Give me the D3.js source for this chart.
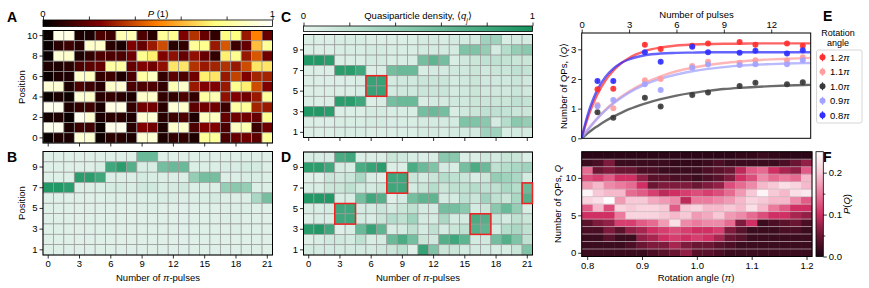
<!DOCTYPE html>
<html><head><meta charset="utf-8">
<script src="https://cdn.jsdelivr.net/npm/d3@7"></script>
<style>body{margin:0;background:#fff}svg{display:block}</style>
</head><body><svg id="c" width="869" height="288"></svg>
<script>
// ---------------- DATA ----------------
const pulses = [0,1,2,3,4,5,6,7,8,9,10,11,12,13,14,15,16,17,18,19,20,21];
const pulseTicks = [0,3,6,9,12,15,18,21];
const positionsA = [10,9,8,7,6,5,4,3,2,1,0];
const positionsBCD = [10,9,8,7,6,5,4,3,2,1];

// Panel A: P(1) per position (rows top->bottom = positionsA)
const probA = [
 [0.02,0.95,0.95,0.05,0.05,0.15,0.12,0.85,0.85,0.15,0.08,0.80,0.78,0.25,0.35,0.20,0.10,0.75,0.75,0.30,0.50,0.20],
 [0.02,0.08,0.12,0.08,0.90,0.90,0.08,0.05,0.25,0.20,0.30,0.40,0.08,0.10,0.80,0.78,0.30,0.42,0.12,0.20,0.62,0.80],
 [0.02,0.92,0.90,0.06,0.10,0.15,0.15,0.15,0.22,0.78,0.72,0.25,0.28,0.20,0.28,0.20,0.10,0.72,0.78,0.30,0.42,0.22],
 [0.06,0.06,0.08,0.15,0.18,0.20,0.82,0.82,0.20,0.25,0.22,0.28,0.70,0.70,0.35,0.30,0.32,0.35,0.30,0.40,0.70,0.70],
 [0.02,0.06,0.06,0.90,0.88,0.10,0.12,0.06,0.15,0.82,0.88,0.10,0.18,0.15,0.22,0.72,0.70,0.30,0.38,0.25,0.32,0.32],
 [0.92,0.92,0.06,0.15,0.12,0.08,0.90,0.92,0.15,0.15,0.15,0.10,0.85,0.90,0.30,0.25,0.25,0.30,0.78,0.72,0.40,0.25],
 [0.02,0.05,0.03,0.92,0.90,0.08,0.10,0.08,0.06,0.90,0.90,0.10,0.10,0.15,0.10,0.82,0.85,0.28,0.25,0.22,0.30,0.80],
 [0.97,0.97,0.06,0.10,0.12,0.05,0.95,0.95,0.10,0.22,0.22,0.08,0.92,0.90,0.18,0.22,0.22,0.12,0.82,0.80,0.32,0.30],
 [0.04,0.06,0.02,0.97,0.92,0.05,0.08,0.08,0.06,0.92,0.92,0.08,0.12,0.15,0.06,0.88,0.88,0.20,0.22,0.22,0.20,0.78],
 [0.97,0.97,0.05,0.12,0.12,0.03,0.96,0.96,0.08,0.25,0.22,0.06,0.90,0.90,0.15,0.25,0.25,0.15,0.88,0.85,0.12,0.22],
 [0.02,0.06,0.05,0.92,0.92,0.03,0.08,0.08,0.06,0.92,0.92,0.06,0.10,0.10,0.06,0.80,0.80,0.15,0.20,0.22,0.18,0.80]
];

// Panel B: quasiparticle density (rows = positionsBCD)
const densB = [
 [0.05,0.05,0.05,0.05,0.05,0.05,0.05,0.05,0.05,0.60,0.60,0.05,0.05,0.05,0.05,0.05,0.05,0.05,0.05,0.05,0.05,0.05],
 [0.05,0.05,0.05,0.05,0.05,0.08,0.80,0.90,0.70,0.08,0.08,0.55,0.60,0.60,0.06,0.06,0.06,0.08,0.08,0.10,0.10,0.06],
 [0.05,0.05,0.05,0.90,0.90,0.80,0.06,0.06,0.06,0.10,0.08,0.06,0.06,0.06,0.40,0.55,0.55,0.06,0.06,0.08,0.08,0.06],
 [0.95,0.95,0.90,0.06,0.06,0.06,0.10,0.10,0.08,0.12,0.12,0.08,0.10,0.12,0.06,0.06,0.06,0.40,0.45,0.40,0.06,0.06],
 [0.05,0.05,0.05,0.05,0.05,0.05,0.06,0.06,0.06,0.06,0.06,0.08,0.08,0.06,0.06,0.08,0.10,0.06,0.06,0.06,0.30,0.55],
 [0.05,0.05,0.05,0.05,0.05,0.05,0.05,0.05,0.05,0.06,0.06,0.05,0.05,0.05,0.05,0.05,0.05,0.06,0.06,0.06,0.05,0.05],
 [0.05,0.05,0.05,0.05,0.05,0.05,0.05,0.05,0.05,0.05,0.05,0.05,0.05,0.05,0.05,0.05,0.05,0.06,0.06,0.05,0.05,0.05],
 [0.05,0.05,0.05,0.05,0.05,0.05,0.05,0.05,0.05,0.05,0.05,0.05,0.05,0.05,0.05,0.05,0.05,0.05,0.06,0.05,0.05,0.05],
 [0.05,0.05,0.05,0.05,0.05,0.05,0.05,0.05,0.05,0.05,0.05,0.05,0.05,0.05,0.05,0.05,0.05,0.05,0.05,0.05,0.05,0.05],
 [0.05,0.05,0.05,0.05,0.05,0.05,0.05,0.05,0.05,0.05,0.05,0.05,0.05,0.05,0.05,0.05,0.05,0.05,0.05,0.05,0.05,0.05]
];

// Panel C
const densC = [
 [0.06,0.06,0.06,0.08,0.08,0.08,0.06,0.06,0.06,0.06,0.06,0.10,0.10,0.08,0.10,0.10,0.10,0.35,0.35,0.08,0.10,0.10],
 [0.06,0.06,0.06,0.08,0.08,0.08,0.10,0.10,0.08,0.08,0.08,0.10,0.10,0.10,0.10,0.50,0.50,0.40,0.10,0.25,0.40,0.45],
 [0.95,0.95,0.90,0.06,0.06,0.06,0.10,0.10,0.08,0.08,0.08,0.55,0.65,0.55,0.08,0.12,0.15,0.20,0.20,0.18,0.15,0.15],
 [0.06,0.06,0.06,0.90,0.90,0.80,0.06,0.08,0.55,0.60,0.60,0.08,0.10,0.10,0.12,0.12,0.15,0.12,0.15,0.15,0.20,0.18],
 [0.06,0.06,0.06,0.06,0.06,0.08,0.85,0.85,0.10,0.12,0.12,0.15,0.15,0.15,0.10,0.12,0.15,0.12,0.12,0.12,0.15,0.12],
 [0.06,0.06,0.06,0.06,0.06,0.08,0.85,0.85,0.10,0.12,0.12,0.15,0.15,0.15,0.10,0.12,0.15,0.12,0.12,0.12,0.15,0.12],
 [0.06,0.06,0.06,0.90,0.90,0.80,0.06,0.08,0.55,0.60,0.60,0.08,0.10,0.10,0.12,0.12,0.15,0.15,0.15,0.15,0.20,0.18],
 [0.95,0.95,0.90,0.06,0.06,0.06,0.10,0.10,0.08,0.08,0.08,0.55,0.60,0.55,0.08,0.12,0.15,0.20,0.20,0.18,0.15,0.15],
 [0.06,0.06,0.06,0.08,0.08,0.08,0.10,0.10,0.08,0.08,0.08,0.10,0.10,0.10,0.10,0.50,0.50,0.45,0.10,0.25,0.45,0.40],
 [0.06,0.06,0.06,0.08,0.08,0.08,0.06,0.06,0.06,0.06,0.06,0.10,0.10,0.08,0.10,0.10,0.10,0.35,0.35,0.08,0.10,0.10]
];
const boxesC = [[6,7,5,6]]; // [pulse from, pulse to, position from, position to]

// Panel D
const densD = [
 [0.08,0.08,0.08,0.75,0.80,0.06,0.06,0.06,0.15,0.12,0.08,0.06,0.08,0.45,0.45,0.06,0.06,0.12,0.10,0.15,0.15,0.06],
 [0.90,0.90,0.80,0.10,0.08,0.75,0.85,0.90,0.06,0.06,0.75,0.60,0.50,0.10,0.08,0.55,0.75,0.60,0.20,0.25,0.30,0.35],
 [0.05,0.05,0.15,0.12,0.15,0.30,0.08,0.05,0.80,0.80,0.15,0.10,0.15,0.25,0.20,0.15,0.08,0.15,0.40,0.35,0.30,0.10],
 [0.08,0.08,0.15,0.15,0.20,0.12,0.10,0.15,0.80,0.80,0.10,0.15,0.25,0.15,0.20,0.20,0.25,0.20,0.20,0.30,0.25,0.60],
 [0.95,0.95,0.95,0.08,0.08,0.55,0.80,0.70,0.05,0.10,0.55,0.65,0.65,0.10,0.10,0.20,0.15,0.35,0.20,0.15,0.30,0.70],
 [0.08,0.08,0.10,0.80,0.80,0.10,0.10,0.15,0.10,0.15,0.20,0.10,0.10,0.55,0.55,0.45,0.10,0.15,0.45,0.60,0.40,0.08],
 [0.05,0.08,0.08,0.80,0.80,0.10,0.08,0.15,0.25,0.20,0.35,0.10,0.10,0.30,0.10,0.10,0.75,0.70,0.15,0.10,0.20,0.15],
 [0.90,0.95,0.80,0.05,0.08,0.60,0.85,0.65,0.08,0.10,0.20,0.10,0.20,0.10,0.15,0.20,0.70,0.65,0.10,0.25,0.30,0.20],
 [0.05,0.08,0.12,0.12,0.10,0.20,0.08,0.10,0.60,0.75,0.55,0.15,0.12,0.70,0.80,0.65,0.10,0.12,0.55,0.70,0.50,0.20],
 [0.10,0.10,0.10,0.10,0.10,0.10,0.10,0.12,0.15,0.20,0.05,0.85,0.50,0.15,0.15,0.10,0.10,0.10,0.08,0.08,0.15,0.50]
];
const boxesD = [[3,4,4,5],[8,9,7,8],[16,17,3,4],[21,21,6,7]];

// Panel E: mean number of QPs vs number of pulses
const nPulses = [1,2,4,5,7,8,10,11,13,14];
const angleLabels = ["1.2","1.1","1.0","0.9","0.8"];
const angleColors = ["#ff3030","#ff9e9e","#3a3a3a","#a3a3ff","#3030ff"];
const qMean = [
 [1.65,1.67,3.15,3.01,3.12,3.20,3.25,3.15,3.20,3.12],
 [1.12,1.01,1.96,2.00,2.44,2.58,2.55,2.63,2.62,2.73],
 [0.88,0.69,1.37,1.07,1.46,1.54,1.76,1.87,1.82,1.89],
 [1.08,1.29,1.82,1.63,2.38,2.49,2.47,2.50,2.50,2.63],
 [1.93,1.93,2.90,2.58,3.09,2.90,2.88,2.95,2.86,2.97]
];
const qErr = [
 [0.07,0.07,0.07,0.06,0.06,0.05,0.06,0.06,0.06,0.07],
 [0.06,0.06,0.06,0.06,0.06,0.05,0.05,0.05,0.05,0.06],
 [0.06,0.05,0.06,0.05,0.06,0.05,0.05,0.05,0.05,0.05],
 [0.06,0.06,0.06,0.06,0.05,0.05,0.05,0.05,0.05,0.06],
 [0.07,0.07,0.06,0.06,0.06,0.05,0.05,0.06,0.06,0.06]
];
// fitted curves
const fitX = [0,0.25,0.5,0.75,1,1.5,2,2.5,3,4,5,6,7,8,9,10,11,12,13,14.5];
const fitQ = [
 [0,0.46,0.86,1.20,1.49,1.95,2.28,2.53,2.71,2.94,3.06,3.13,3.16,3.18,3.19,3.19,3.20,3.20,3.20,3.20],
 [0,0.19,0.37,0.53,0.68,0.96,1.20,1.40,1.58,1.87,2.09,2.26,2.38,2.47,2.54,2.59,2.63,2.66,2.68,2.71],
 [0,0.11,0.22,0.32,0.41,0.58,0.73,0.86,0.98,1.17,1.32,1.44,1.53,1.60,1.66,1.70,1.73,1.76,1.78,1.80],
 [0,0.19,0.36,0.52,0.67,0.94,1.17,1.37,1.54,1.81,2.01,2.15,2.26,2.34,2.40,2.45,2.48,2.50,2.52,2.54],
 [0,0.55,0.99,1.35,1.64,2.07,2.35,2.54,2.66,2.80,2.86,2.88,2.89,2.90,2.90,2.90,2.90,2.90,2.90,2.90]
];

// Panel F: P(Q) vs rotation angle
const angles = [0.80,0.82,0.84,0.86,0.88,0.90,0.92,0.94,0.96,0.98,1.00,1.02,1.04,1.06,1.08,1.10,1.12,1.14,1.16,1.18,1.20];
const qValues = [0,1,2,3,4,5,6,7,8,9,10,11,12,13];
const probQ = [
 [0.02,0.02,0.02,0.02,0.02,0.02,0.03,0.04,0.05,0.07,0.04,0.04,0.03,0.02,0.02,0.02,0.02,0.02,0.02,0.02,0.02],
 [0.02,0.02,0.02,0.02,0.03,0.05,0.06,0.06,0.08,0.06,0.05,0.05,0.04,0.03,0.02,0.02,0.02,0.02,0.02,0.02,0.02],
 [0.02,0.02,0.04,0.02,0.02,0.07,0.08,0.10,0.11,0.10,0.11,0.10,0.08,0.05,0.04,0.02,0.02,0.02,0.02,0.02,0.02],
 [0.03,0.03,0.06,0.04,0.07,0.08,0.10,0.11,0.12,0.11,0.10,0.10,0.11,0.06,0.04,0.02,0.02,0.02,0.03,0.03,0.02],
 [0.04,0.06,0.07,0.11,0.11,0.13,0.14,0.17,0.22,0.16,0.15,0.16,0.16,0.14,0.06,0.10,0.02,0.03,0.04,0.05,0.03],
 [0.10,0.10,0.10,0.15,0.21,0.21,0.21,0.20,0.19,0.20,0.17,0.18,0.20,0.17,0.16,0.14,0.12,0.10,0.10,0.08,0.07],
 [0.13,0.19,0.12,0.21,0.20,0.21,0.21,0.20,0.13,0.20,0.21,0.19,0.19,0.20,0.19,0.22,0.19,0.15,0.13,0.10,0.10],
 [0.21,0.22,0.25,0.17,0.20,0.20,0.18,0.17,0.16,0.09,0.15,0.15,0.16,0.17,0.19,0.21,0.20,0.19,0.19,0.16,0.13],
 [0.24,0.20,0.19,0.19,0.14,0.13,0.11,0.09,0.10,0.11,0.12,0.11,0.12,0.14,0.17,0.20,0.24,0.20,0.19,0.22,0.23],
 [0.17,0.19,0.16,0.15,0.14,0.10,0.05,0.06,0.06,0.06,0.05,0.06,0.07,0.12,0.14,0.16,0.19,0.20,0.22,0.21,0.19],
 [0.12,0.11,0.13,0.10,0.10,0.07,0.04,0.04,0.03,0.03,0.02,0.03,0.04,0.06,0.10,0.12,0.16,0.14,0.15,0.14,0.19],
 [0.14,0.05,0.06,0.05,0.05,0.03,0.03,0.02,0.02,0.02,0.02,0.03,0.04,0.05,0.09,0.13,0.14,0.10,0.08,0.07,0.13],
 [0.02,0.03,0.06,0.02,0.02,0.02,0.02,0.02,0.015,0.015,0.015,0.02,0.03,0.02,0.02,0.02,0.02,0.02,0.03,0.05,0.07],
 [0.01,0.01,0.01,0.01,0.01,0.01,0.01,0.01,0.01,0.01,0.01,0.01,0.01,0.01,0.015,0.015,0.02,0.015,0.01,0.01,0.01]
];

// ---------------- DRAWING ----------------
const FONT = "'Liberation Sans', Arial, Helvetica, sans-serif";
const FS = 9.5;
const svg = d3.select("#c");
const defs = svg.append("defs");

const afmhot = t => { const c = v => Math.round(255*Math.max(0,Math.min(1,v)));
  return `rgb(${c(2*t)},${c(2*t-0.5)},${c(2*t-1)})`; };
const greens = d3.interpolateRgb("#e9f5ef", "#16935f");
const pinkScale = d3.scaleLinear().domain([0,0.05,0.1,0.15,0.2,0.25])
  .range(["#1c0410","#6a1532","#cf2f63","#ec7a9d","#f7c9d7","#ffffff"]).clamp(true);

function txt(g, x, y, s, o={}) {
  const t = g.append("text").attr("x",x).attr("y",y).attr("font-family",FONT)
    .attr("font-size",o.size||FS).attr("fill","#000").attr("text-anchor",o.anchor||"middle");
  if (s) t.text(s);
  if (o.weight) t.attr("font-weight",o.weight);
  if (o.rotate!=null) t.attr("transform",`rotate(${o.rotate},${x},${y})`);
  return t;
}
function parts(t, arr) { // arr: [text, italic?, baseline-shift]
  arr.forEach(p => { const s = t.append("tspan").text(p[0]);
    if (p[1]) s.attr("font-style","italic");
    if (p[2]) s.attr("baseline-shift",p[2]).attr("font-size",FS*0.7); });
  return t;
}
function styleAxis(g) {
  g.attr("font-family",FONT).attr("font-size",FS);
  g.select(".domain").remove();
  g.selectAll(".tick line").attr("stroke","#000").attr("stroke-width",0.8);
  g.selectAll(".tick text").attr("fill","#000");
}
function frame(x0,y0,x1,y1,w=1){ svg.append("rect").attr("x",x0).attr("y",y0).attr("width",x1-x0).attr("height",y1-y0)
  .attr("fill","none").attr("stroke","#000").attr("stroke-width",w); }

function heatmap(rows, matrix, x0,x1,y0,y1, color) {
  const x = d3.scaleBand().domain(pulses).range([x0,x1]);
  const y = d3.scaleBand().domain(rows).range([y0,y1]);
  const g = svg.append("g");
  rows.forEach((r,i) => pulses.forEach((p,j) => {
    g.append("rect").attr("x",x(p)).attr("y",y(r)).attr("width",x.bandwidth()).attr("height",y.bandwidth())
      .attr("fill",color(matrix[i][j])).attr("stroke","#9a9a9a").attr("stroke-width",0.7);
  }));
  frame(x0,y0,x1,y1);
  return {x,y};
}
function boxes(sc, list) {
  list.forEach(b => {
    const xa = sc.x(b[0]), xb = sc.x(b[1]) + sc.x.bandwidth();
    const ya = sc.y(b[3]), yb = sc.y(b[2]) + sc.y.bandwidth();
    svg.append("rect").attr("x",xa).attr("y",ya).attr("width",xb-xa).attr("height",yb-ya)
      .attr("fill","none").attr("stroke","#ee2020").attr("stroke-width",1.5);
  });
}
function colorbarH(id, cmap, x0,x1,y0,y1) {
  const gr = defs.append("linearGradient").attr("id",id);
  d3.range(0,1.0001,0.05).forEach(t => gr.append("stop").attr("offset",t).attr("stop-color",cmap(t)));
  svg.append("rect").attr("x",x0).attr("y",y0).attr("width",x1-x0).attr("height",y1-y0).attr("fill",`url(#${id})`)
    .attr("stroke","#000").attr("stroke-width",0.8);
  const s = d3.scaleLinear().domain([0,1]).range([x0,x1]);
  const ax = svg.append("g").attr("transform",`translate(0,${y0})`)
    .call(d3.axisTop(s).tickValues([0,0.2,0.4,0.6,0.8,1]).tickSize(3.5).tickFormat(""));
  styleAxis(ax);
}

// ----- Panel A -----
const scA = heatmap(positionsA, probA, 43, 272.5, 30.5, 143, afmhot);
styleAxis(svg.append("g").attr("transform","translate(43,0)")
  .call(d3.axisLeft(scA.y).tickValues([10,8,6,4,2,0]).tickSize(3.5).tickPadding(2)));
styleAxis(svg.append("g").attr("transform","translate(0,143)")
  .call(d3.axisBottom(scA.x).tickValues(pulseTicks).tickSize(3.5).tickFormat("")));
colorbarH("gA", afmhot, 43, 272.5, 20, 26.5);
txt(svg, 43, 16.5, "0"); txt(svg, 272.5, 16.5, "1");
parts(txt(svg, 158, 16.5, ""), [["P",true],[" (1)"]]);
txt(svg, 25, 87, "Position", {rotate:-90});

// ----- Panel B -----
const scB = heatmap(positionsBCD, densB, 43, 272.5, 151.5, 255, greens);
styleAxis(svg.append("g").attr("transform","translate(43,0)")
  .call(d3.axisLeft(scB.y).tickValues([9,7,5,3,1]).tickSize(3.5).tickPadding(2)));
styleAxis(svg.append("g").attr("transform","translate(0,255)")
  .call(d3.axisBottom(scB.x).tickValues(pulseTicks).tickSize(3.5).tickPadding(2)));
txt(svg, 25, 203, "Position", {rotate:-90});
parts(txt(svg, 158, 280.5, ""), [["Number of "],["π",true],["-pulses"]]);

// ----- Panel C -----
const scC = heatmap(positionsBCD, densC, 303.5, 532.5, 34.5, 137.5, greens);
boxes(scC, boxesC);
styleAxis(svg.append("g").attr("transform","translate(303.5,0)")
  .call(d3.axisLeft(scC.y).tickValues([9,7,5,3,1]).tickSize(3.5).tickPadding(2)));
styleAxis(svg.append("g").attr("transform","translate(0,137.5)")
  .call(d3.axisBottom(scC.x).tickValues(pulseTicks).tickSize(3.5).tickFormat("")));
colorbarH("gC", greens, 303.5, 532.5, 26, 31.5);
txt(svg, 303.5, 18.5, "0"); txt(svg, 532.5, 18.5, "1");
parts(txt(svg, 418, 18.5, ""), [["Quasiparticle density, ⟨"],["q",true],["j",true,"sub"],["⟩"]]);

// ----- Panel D -----
const scD = heatmap(positionsBCD, densD, 303.5, 532.5, 152, 255, greens);
boxes(scD, boxesD);
styleAxis(svg.append("g").attr("transform","translate(303.5,0)")
  .call(d3.axisLeft(scD.y).tickValues([9,7,5,3,1]).tickSize(3.5).tickPadding(2)));
styleAxis(svg.append("g").attr("transform","translate(0,255)")
  .call(d3.axisBottom(scD.x).tickValues(pulseTicks).tickSize(3.5).tickPadding(2)));
parts(txt(svg, 418, 280.5, ""), [["Number of "],["π",true],["-pulses"]]);

// ----- Panel E -----
const xE = d3.scaleLinear().domain([0,14.5]).range([581.7,810.7]);
const yE = d3.scaleLinear().domain([0,3.55]).range([138.3,33]);
const clipE = defs.append("clipPath").attr("id","clipE");
clipE.append("rect").attr("x",581.7).attr("y",33).attr("width",229).attr("height",105.3);
const gE = svg.append("g").attr("clip-path","url(#clipE)");
const line = d3.line().x((d,i)=>xE(fitX[i])).y(d=>yE(d)).curve(d3.curveMonotoneX);
fitQ.forEach((s,k) => gE.append("path").attr("d",line(s)).attr("fill","none")
  .attr("stroke",angleColors[k]).attr("stroke-width",2.4).attr("stroke-opacity",0.75));
const gP = svg.append("g");
qMean.forEach((s,k) => s.forEach((v,i) => {
  const cx = xE(nPulses[i]);
  gP.append("line").attr("x1",cx).attr("x2",cx).attr("y1",yE(v-qErr[k][i])).attr("y2",yE(v+qErr[k][i]))
    .attr("stroke",angleColors[k]).attr("stroke-width",1.2);
  gP.append("circle").attr("cx",cx).attr("cy",yE(v)).attr("r",3).attr("fill",angleColors[k]).attr("fill-opacity",0.9);
}));
frame(581.7,33,810.7,138.3);
styleAxis(svg.append("g").attr("transform","translate(581.7,0)")
  .call(d3.axisLeft(yE).tickValues([0,1,2,3]).tickFormat(d3.format("d")).tickSize(3.5).tickPadding(2)));
styleAxis(svg.append("g").attr("transform","translate(0,33)")
  .call(d3.axisTop(xE).tickValues([0,3,6,9,12]).tickFormat(d3.format("d")).tickSize(3.5).tickPadding(2)));
txt(svg, 696.5, 17.5, "Number of pulses");
parts(txt(svg, 567, 86, "", {rotate:-90}), [["Number of QPs, ⟨"],["Q",true],["⟩"]]);
// legend
txt(svg, 838, 35.5, "Rotation", {size:9}); txt(svg, 838, 45.5, "angle", {size:9});
svg.append("rect").attr("x",816.5).attr("y",50).attr("width",45.5).attr("height",73).attr("rx",2)
  .attr("fill","#fff").attr("stroke","#cccccc").attr("stroke-width",0.8);
angleLabels.forEach((a,k) => {
  const yy = 57.3 + k*14.5;
  svg.append("line").attr("x1",822.5).attr("x2",822.5).attr("y1",yy-4).attr("y2",yy+4)
    .attr("stroke",angleColors[k]).attr("stroke-width",1.2);
  svg.append("circle").attr("cx",822.5).attr("cy",yy).attr("r",3).attr("fill",angleColors[k]);
  parts(txt(svg, 830, yy+3.4, "", {anchor:"start"}), [[a],["π",true]]);
});

// ----- Panel F -----
const xF = d3.scaleLinear().domain([0.79,1.21]).range([581.7,812]);
const yF = d3.scaleLinear().domain([-0.5,13.5]).range([256.5,151.7]);
const gF = svg.append("g");
qValues.forEach((q,i) => angles.forEach((a,j) => {
  const xa = xF(a-0.01), xb = xF(a+0.01), ya = yF(q+0.5), yb = yF(q-0.5);
  gF.append("rect").attr("x",xa).attr("y",ya).attr("width",xb-xa+0.3).attr("height",yb-ya+0.3)
    .attr("fill",pinkScale(probQ[i][j]));
}));
qValues.slice(1).forEach(q => gF.append("line").attr("x1",xF(0.79)).attr("x2",xF(1.21))
  .attr("y1",yF(q-0.5)).attr("y2",yF(q-0.5)).attr("stroke","#c8b8be").attr("stroke-opacity",0.75).attr("stroke-width",0.9));
frame(581.7,151.7,812,256.5);
styleAxis(svg.append("g").attr("transform","translate(581.7,0)")
  .call(d3.axisLeft(yF).tickValues([0,5,10]).tickFormat(d3.format("d")).tickSize(3.5).tickPadding(2)));
styleAxis(svg.append("g").attr("transform","translate(0,256.5)")
  .call(d3.axisBottom(xF).tickValues([0.8,0.9,1.0,1.1,1.2]).tickFormat(d3.format(".1f")).tickSize(3.5).tickPadding(2)));
parts(txt(svg, 696, 280.5, ""), [["Rotation angle ("],["π",true],[")"]]);
parts(txt(svg, 561, 204, "", {rotate:-90}), [["Number of QPs, "],["Q",true]]);
// colorbar F
const grF = defs.append("linearGradient").attr("id","gF").attr("x1",0).attr("y1",1).attr("x2",0).attr("y2",0);
d3.range(0,1.0001,0.05).forEach(t => grF.append("stop").attr("offset",t).attr("stop-color",pinkScale(t*0.25)));
svg.append("rect").attr("x",816).attr("y",151.7).attr("width",7.3).attr("height",104.8).attr("fill","url(#gF)")
  .attr("stroke","#000").attr("stroke-width",0.8);
const yCB = d3.scaleLinear().domain([0,0.25]).range([256.5,151.7]);
styleAxis(svg.append("g").attr("transform","translate(823.3,0)")
  .call(d3.axisRight(yCB).tickValues([0,0.1,0.2]).tickFormat(d3.format(".1f")).tickSize(3.5).tickPadding(2)));
styleAxis(svg.append("g").attr("transform","translate(823.3,0)")
  .call(d3.axisRight(yCB).tickValues([0.05,0.15]).tickFormat("").tickSize(2)));
parts(txt(svg, 849.5, 204, "", {rotate:-90}), [["P",true],["("],["Q",true],[")"]]);

// ----- panel letters -----
[["A",7,21.5],["B",7,162],["C",281,21.5],["D",281,162],["E",823,21],["F",823,162]].forEach(l =>
  txt(svg, l[1], l[2], l[0], {anchor:"start", size:14, weight:"bold"}));
</script></body></html>
